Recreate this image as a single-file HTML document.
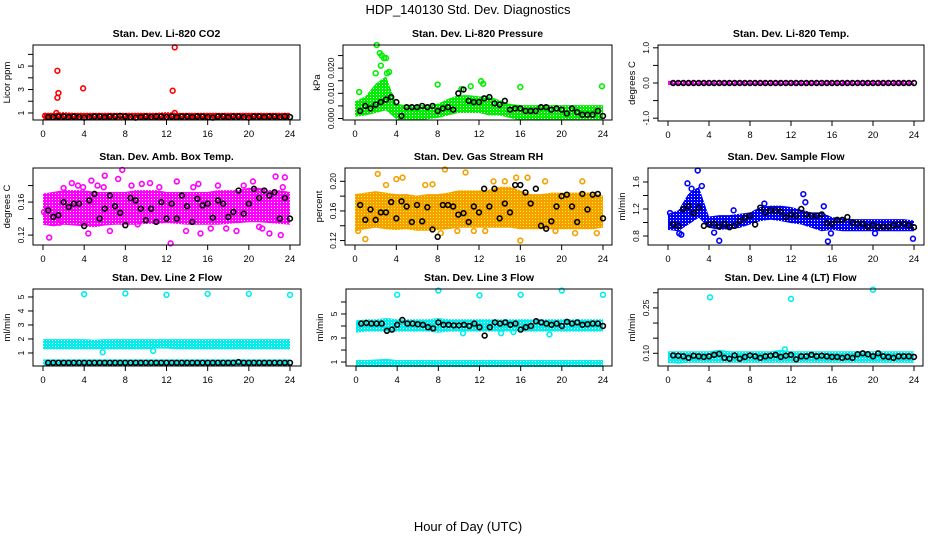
<!DOCTYPE html>
<html><head><meta charset="utf-8"><style>
body{margin:0;background:#fff}
svg{display:block;font-family:"Liberation Sans",sans-serif}
</style></head><body>
<svg id="chart" width="936" height="540" viewBox="0 0 936 540">
<defs id="defs"></defs>
<rect x="0" y="0" width="936" height="540" fill="#fff"/>
<text x="468" y="14" font-size="13" text-anchor="middle">HDP_140130  Std. Dev. Diagnostics</text>
<text x="468" y="531" font-size="13" text-anchor="middle">Hour of Day (UTC)</text>
</svg>
<script>
// ---- data ----
const xTicks = [0,4,8,12,16,20,24];
const bandHours = [0,1,2,3,4,5,6,7,8,9,10,11,12,13,14,15,16,17,18,19,20,21,22,23,24];

const co2Lo = [0.55,0.55,0.55,0.55,0.55,0.55,0.55,0.55,0.55,0.55,0.55,0.55,0.55,0.55,0.55,0.55,0.55,0.55,0.55,0.55,0.55,0.55,0.55,0.55,0.55];
const co2Hi = [0.85,0.85,0.9,0.85,0.85,0.85,0.85,0.85,0.85,0.85,0.85,0.85,0.9,0.85,0.85,0.85,0.85,0.85,0.85,0.85,0.85,0.85,0.85,0.85,0.85];
const co2OutH = [0.2,1.3,1.4,1.5,1.4,3.9,12.6,12.8,12.8];
const co2OutV = [0.75,1.0,2.3,2.7,4.6,3.1,2.9,6.6,1.0];
const co2Black = [0.65,0.65,0.7,0.7,0.65,0.7,0.65,0.6,0.65,0.7,0.7,0.65,0.7,0.7,0.75,0.7,0.65,0.6,0.65,0.7,0.65,0.7,0.7,0.65,0.7,0.65,0.7,0.7,0.65,0.7,0.7,0.65,0.6,0.7,0.7,0.65,0.7,0.7,0.65,0.6,0.7,0.7,0.65,0.7,0.7,0.65,0.7,0.65];

const presLo = [0.0015,0.002,0.003,0.004,0.0005,0.0,0.0,0.0005,0.001,0.002,0.003,0.003,0.003,0.002,0.002,0.001,0.0,0.0,0.0,0.0,0.0,0.0,0.0,0.0,0.0];
const presHi = [0.006,0.008,0.013,0.016,0.005,0.0045,0.0045,0.0045,0.005,0.007,0.0085,0.0085,0.008,0.008,0.0065,0.005,0.0045,0.0045,0.0045,0.0045,0.0045,0.0045,0.0045,0.0045,0.0045];
const presOutH = [2.1,2.4,2.6,2.8,3.0,2.0,3.1,0.4,8.0,10.3,11.2,12.2,12.4,16.0,23.9,2.5,3.3];
const presOutV = [0.0292,0.026,0.025,0.024,0.024,0.018,0.018,0.0105,0.0135,0.0117,0.0128,0.0148,0.0138,0.0125,0.0128,0.021,0.0185];
const presBlack = [0.003,0.005,0.004,0.0055,0.0065,0.0075,0.0085,0.0065,0.001,0.0045,0.0045,0.0045,0.005,0.0045,0.005,0.003,0.004,0.0045,0.0035,0.010,0.0115,0.007,0.0065,0.0065,0.008,0.0085,0.006,0.0055,0.007,0.0035,0.004,0.004,0.003,0.003,0.003,0.0045,0.0045,0.0035,0.004,0.0035,0.002,0.004,0.0025,0.0015,0.0015,0.0015,0.003,0.001];

const tempLo = [0,0,0,0,0,0,0,0,0,0,0,0,0,0,0,0,0,0,0,0,0,0,0,0,0];
const tempHi = [0,0,0,0,0,0,0,0,0,0,0,0,0,0,0,0,0,0,0,0,0,0,0,0,0];
const tempBlack = [0,0,0,0,0,0,0,0,0,0,0,0,0,0,0,0,0,0,0,0,0,0,0,0,0,0,0,0,0,0,0,0,0,0,0,0,0,0,0,0,0,0,0,0,0,0,0,0];

const ambLo = [0.135,0.133,0.135,0.134,0.133,0.132,0.134,0.135,0.135,0.135,0.136,0.136,0.137,0.136,0.135,0.135,0.135,0.135,0.136,0.137,0.138,0.138,0.137,0.136,0.135];
const ambHi = [0.168,0.17,0.172,0.172,0.172,0.17,0.17,0.17,0.17,0.172,0.172,0.172,0.17,0.17,0.17,0.17,0.17,0.172,0.172,0.172,0.175,0.175,0.172,0.172,0.17];
const ambOutH = [0.6,1.2,2.0,2.8,3.4,3.9,4.4,4.7,5.3,5.9,6.5,7.3,7.7,8.6,9.6,10.4,11.3,12.4,13.0,13.9,14.6,15.3,16.3,17.0,17.8,18.8,19.5,20.4,21.3,22.0,22.6,23.1,23.5,1.6,6.0,9.2,15.1,21.0,23.3,0.1];
const ambOutV = [0.117,0.145,0.177,0.183,0.18,0.178,0.122,0.186,0.18,0.178,0.125,0.188,0.199,0.18,0.182,0.183,0.178,0.11,0.185,0.125,0.178,0.122,0.128,0.18,0.128,0.125,0.18,0.185,0.128,0.122,0.191,0.12,0.19,0.135,0.192,0.133,0.182,0.13,0.178,0.148];
const ambBlack = [0.15,0.142,0.144,0.16,0.154,0.158,0.158,0.131,0.162,0.17,0.14,0.152,0.168,0.155,0.147,0.132,0.165,0.162,0.152,0.138,0.152,0.136,0.16,0.14,0.158,0.14,0.168,0.155,0.136,0.164,0.156,0.158,0.141,0.162,0.158,0.142,0.148,0.174,0.146,0.158,0.176,0.165,0.174,0.168,0.172,0.14,0.165,0.14];

const rhLo = [0.135,0.138,0.14,0.138,0.137,0.138,0.136,0.136,0.137,0.138,0.14,0.14,0.14,0.14,0.14,0.14,0.138,0.138,0.138,0.138,0.138,0.138,0.138,0.138,0.14];
const rhHi = [0.18,0.182,0.184,0.182,0.18,0.18,0.178,0.18,0.18,0.182,0.185,0.185,0.185,0.186,0.19,0.19,0.185,0.18,0.18,0.182,0.182,0.182,0.182,0.182,0.178];
const rhOutH = [0.3,1.0,2.2,4.0,4.6,6.8,7.5,8.7,9.9,10.7,12.6,13.4,14.5,16.0,16.7,18.4,19.4,21.3,22.0,23.4,3.0,8.3,11.5,15.6];
const rhOutV = [0.133,0.122,0.21,0.203,0.205,0.195,0.196,0.216,0.133,0.212,0.133,0.2,0.2,0.12,0.205,0.2,0.133,0.13,0.2,0.13,0.195,0.13,0.133,0.205];
const rhBlack = [0.168,0.148,0.162,0.148,0.158,0.158,0.172,0.15,0.173,0.166,0.145,0.168,0.146,0.165,0.135,0.125,0.168,0.168,0.166,0.155,0.157,0.145,0.166,0.158,0.19,0.166,0.19,0.15,0.17,0.158,0.195,0.195,0.185,0.17,0.19,0.14,0.136,0.146,0.166,0.18,0.182,0.166,0.145,0.183,0.162,0.182,0.183,0.15];

const flowLo = [0.92,0.9,1.0,1.1,0.95,0.92,0.93,0.95,1.0,1.05,1.07,1.05,1.02,1.0,0.95,0.9,0.92,0.9,0.9,0.9,0.9,0.9,0.9,0.9,0.9];
const flowHi = [1.1,1.15,1.4,1.5,1.06,1.08,1.08,1.1,1.12,1.2,1.22,1.22,1.2,1.16,1.12,1.12,1.05,1.03,1.02,1.02,1.02,1.02,1.02,1.02,1.0];
const flowOutH = [0.2,1.3,1.9,2.3,2.9,3.3,4.5,5.0,6.4,9.4,13.2,15.2,15.6,15.9,20.2,23.9,1.1,13.4];
const flowOutV = [1.14,0.82,1.58,1.5,1.77,1.54,0.85,0.73,1.18,1.28,1.42,1.24,0.72,0.84,0.84,0.76,0.84,1.3];
const flowBlack = [0.97,0.95,1.2,1.24,1.14,1.22,0.95,0.97,0.98,0.94,0.98,0.93,0.95,1.02,1.07,1.1,0.97,1.22,1.15,1.18,1.18,1.16,1.08,1.12,1.1,1.2,1.12,1.1,1.1,1.12,0.99,0.98,1.04,1.04,1.08,1.0,0.98,0.98,0.94,0.96,0.94,0.94,0.94,0.96,0.97,0.98,0.96,0.93];

const l2Lo = [1.4,1.4,1.4,1.4,1.4,1.4,1.4,1.4,1.4,1.4,1.4,1.45,1.45,1.4,1.4,1.4,1.4,1.4,1.4,1.4,1.4,1.4,1.4,1.4,1.4];
const l2Hi = [1.85,1.85,1.85,1.85,1.85,1.8,1.85,1.85,1.85,1.85,1.85,1.85,1.85,1.85,1.85,1.85,1.85,1.85,1.85,1.85,1.85,1.85,1.85,1.85,1.85];
const l2Lo2 = [0.2,0.2,0.2,0.2,0.2,0.2,0.2,0.2,0.2,0.2,0.2,0.2,0.2,0.2,0.2,0.2,0.2,0.2,0.2,0.2,0.2,0.2,0.2,0.2,0.2];
const l2Hi2 = [0.4,0.4,0.4,0.4,0.4,0.4,0.4,0.4,0.4,0.4,0.4,0.4,0.4,0.4,0.4,0.4,0.4,0.4,0.4,0.4,0.4,0.4,0.4,0.4,0.4];
const l2OutH = [4,8,12,16,20,24,5.8,10.7];
const l2OutV = [5.2,5.25,5.15,5.22,5.22,5.15,1.05,1.15];
const l2Black = [0.3,0.3,0.3,0.3,0.3,0.3,0.3,0.3,0.3,0.3,0.3,0.3,0.3,0.3,0.3,0.3,0.3,0.3,0.3,0.3,0.3,0.3,0.3,0.3,0.3,0.3,0.3,0.3,0.3,0.3,0.3,0.3,0.3,0.3,0.3,0.3,0.3,0.35,0.3,0.3,0.3,0.3,0.3,0.3,0.3,0.3,0.3,0.3];

const l3Lo = [3.6,3.7,3.7,3.7,3.7,3.7,3.7,3.7,3.6,3.7,3.7,3.7,3.7,3.7,3.7,3.7,3.7,3.7,3.7,3.7,3.7,3.7,3.7,3.7,3.7];
const l3Hi = [4.3,4.4,4.4,4.5,4.4,4.4,4.4,4.4,4.5,4.4,4.4,4.4,4.4,4.4,4.4,4.4,4.4,4.4,4.4,4.4,4.4,4.4,4.4,4.4,4.4];
const l3Lo2 = [0.75,0.75,0.75,0.75,0.75,0.75,0.75,0.75,0.75,0.75,0.75,0.75,0.75,0.75,0.75,0.75,0.75,0.75,0.75,0.75,0.75,0.75,0.75,0.75,0.75];
const l3Hi2 = [1.0,1.0,1.05,1.1,1.0,1.0,1.0,1.0,1.0,1.0,1.0,1.0,1.0,1.0,1.0,1.0,1.0,1.0,1.0,1.0,1.0,1.0,1.0,1.0,1.0];
const l3OutH = [4,8,12,16,20,24,10.4,14.1,18.8,15.3];
const l3OutV = [6.6,6.95,6.55,6.6,6.95,6.6,3.4,3.4,3.3,3.5];
const l3Black = [4.2,4.25,4.2,4.2,4.2,3.6,3.7,4.1,4.5,4.2,4.2,4.15,4.1,3.9,3.8,4.3,4.1,4.1,4.05,4.05,4.1,4.0,4.2,3.9,3.2,3.9,4.3,4.2,4.3,4.1,4.2,3.7,3.9,4.0,4.4,4.3,4.2,4.1,4.2,4.0,4.35,4.2,4.3,4.1,4.15,4.2,4.2,4.0];

const l4Lo = [0.075,0.072,0.075,0.075,0.075,0.075,0.075,0.075,0.075,0.075,0.075,0.075,0.075,0.075,0.075,0.075,0.075,0.075,0.075,0.075,0.075,0.075,0.075,0.075,0.075];
const l4Hi = [0.1,0.1,0.1,0.1,0.1,0.105,0.1,0.1,0.1,0.1,0.1,0.105,0.1,0.1,0.1,0.1,0.1,0.1,0.1,0.1,0.1,0.1,0.1,0.1,0.1];
const l4OutH = [4.1,12.0,20.0,11.4];
const l4OutV = [0.285,0.28,0.31,0.113];
const l4Black = [0.093,0.092,0.09,0.085,0.092,0.09,0.088,0.09,0.095,0.098,0.085,0.082,0.093,0.082,0.088,0.093,0.09,0.085,0.09,0.092,0.095,0.088,0.092,0.095,0.08,0.09,0.09,0.095,0.09,0.092,0.09,0.088,0.088,0.085,0.088,0.085,0.097,0.1,0.097,0.09,0.1,0.09,0.088,0.085,0.09,0.09,0.09,0.088];

// ---- rendering ----
const NS = "http://www.w3.org/2000/svg";
const svg = document.getElementById('chart');
const defs = document.getElementById('defs');
function el(tag, attrs, parent){const e=document.createElementNS(NS,tag);for(const k in attrs)e.setAttribute(k,attrs[k]);(parent||svg).appendChild(e);return e;}

let patId = 0;
function makePattern(color, dot){
  const id = 'pat'+(patId++);
  const p = el('pattern',{id:id,width:3,height:3,patternUnits:'userSpaceOnUse'},defs);
  el('rect',{x:0,y:0,width:3,height:3,fill:color},p);
  el('rect',{x:1,y:1,width:1,height:1,fill:dot},p);
  return 'url(#'+id+')';
}

const panels = [
 {key:'co2',title:'Stan. Dev. Li-820 CO2',ylab:'Licor ppm',box:[33,45,300,120],x0:43,x24:290,ymin:0.4,ymax:6.8,ticks:[1,2,3,4,5,6],labels:[1,3,5],fmt:v=>String(v),color:'#ff0000',bands:[[co2Lo,co2Hi]],outH:co2OutH,outV:co2OutV,black:co2Black},
 {key:'pressure',title:'Stan. Dev. Li-820 Pressure',ylab:'kPa',box:[343,45,612,120],x0:355,x24:603,ymin:-0.0006,ymax:0.0292,ticks:[0,0.005,0.01,0.015,0.02,0.025],labels:[0,0.01,0.02],fmt:v=>v.toFixed(3),color:'#00ee00',bands:[[presLo,presHi]],outH:presOutH,outV:presOutV,black:presBlack},
 {key:'temp',title:'Stan. Dev. Li-820 Temp.',ylab:'degrees C',box:[658,45,924,121],x0:668,x24:914,ymin:-1.08,ymax:1.08,ticks:[-1,-0.5,0,0.5,1],labels:[-1,0,1],fmt:v=>v.toFixed(1),color:'#ff00ff',bands:[[tempLo,tempHi]],outH:[],outV:[],black:tempBlack},
 {key:'amb-temp',title:'Stan. Dev. Amb. Box Temp.',ylab:'degrees C',box:[33,168,300,245],x0:43,x24:290,ymin:0.108,ymax:0.2013,ticks:[0.12,0.14,0.16,0.18],labels:[0.12,0.16],fmt:v=>v.toFixed(2),color:'#ff00ff',bands:[[ambLo,ambHi]],outH:ambOutH,outV:ambOutV,black:ambBlack},
 {key:'rh',title:'Stan. Dev. Gas Stream RH',ylab:'percent',box:[345,168,612,245],x0:355,x24:603,ymin:0.114,ymax:0.218,ticks:[0.12,0.14,0.16,0.18,0.2],labels:[0.12,0.16,0.2],fmt:v=>v.toFixed(2),color:'#f5a000',dot:'#ffff00',bands:[[rhLo,rhHi]],outH:rhOutH,outV:rhOutV,black:rhBlack},
 {key:'sample-flow',title:'Stan. Dev. Sample Flow',ylab:'ml/min',box:[648,168,924,245],x0:668,x24:914,ymin:0.667,ymax:1.807,ticks:[0.8,1.0,1.2,1.4,1.6],labels:[0.8,1.2,1.6],fmt:v=>v.toFixed(1),color:'#0000ff',bands:[[flowLo,flowHi]],outH:flowOutH,outV:flowOutV,black:flowBlack},
 {key:'line2',title:'Stan. Dev. Line 2 Flow',ylab:'ml/min',box:[33,289,301,366],x0:43,x24:290,ymin:0.07,ymax:5.57,ticks:[1,2,3,4,5],labels:[1,2,3,4,5],fmt:v=>String(v),color:'#00eeee',bands:[[l2Lo,l2Hi],[l2Lo2,l2Hi2]],outH:l2OutH,outV:l2OutV,black:l2Black},
 {key:'line3',title:'Stan. Dev. Line 3 Flow',ylab:'ml/min',box:[346,289,612,366],x0:356,x24:603,ymin:0.67,ymax:7.08,ticks:[1,2,3,4,5,6],labels:[1,3,5],fmt:v=>String(v),color:'#00eeee',bands:[[l3Lo,l3Hi],[l3Lo2,l3Hi2]],outH:l3OutH,outV:l3OutV,black:l3Black},
 {key:'line4',title:'Stan. Dev. Line 4 (LT) Flow',ylab:'ml/min',box:[658,289,923,366],x0:668,x24:914,ymin:0.058,ymax:0.3125,ticks:[0.1,0.15,0.2,0.25,0.3],labels:[0.1,0.25],fmt:v=>v.toFixed(2),color:'#00eeee',bands:[[l4Lo,l4Hi]],outH:l4OutH,outV:l4OutV,black:l4Black}
];

panels.forEach(p=>{
  const g = el('g',{});
  
  
  const [L,T,R,B] = p.box;
  const xs = h => p.x0 + (p.x24-p.x0)*h/24;
  const ys = v => B - (v-p.ymin)/(p.ymax-p.ymin)*(B-T);
  const cx = (L+R)/2;
  const t = el('text',{x:cx,y:T-8,'font-size':10.5,'font-weight':'bold','text-anchor':'middle'},g);
  t.textContent = p.title;
  
  
  const fill = makePattern(p.color, p.dot || '#ffffff');
  // bands
  p.bands.forEach(([lo,hi])=>{
    let pts = bandHours.map((h,i)=>xs(h)+','+(ys(hi[i])-2));
    pts = pts.concat(bandHours.slice().reverse().map((h,j)=>{const i=bandHours.length-1-j;return xs(h)+','+(ys(lo[i])+2);}));
    const poly = el('polygon',{points:pts.join(' '),fill:fill,stroke:'none'},g);
    
    
  });
  // outliers
  p.outH.forEach((h,i)=>{
    const c = el('circle',{cx:xs(h),cy:ys(p.outV[i]),r:2.4,fill:'none',stroke:p.color,'stroke-width':1.6},g);
    
    
  });
  // black points
  p.black.forEach((v,i)=>{
    const c = el('circle',{cx:xs((i+1)*0.5),cy:ys(v),r:2.4,fill:'none',stroke:'#000','stroke-width':1.6},g);
    
    
  });
  // frame
  const fr = el('rect',{x:L,y:T,width:R-L,height:B-T,fill:'none',stroke:'#000','stroke-width':1},g);
  
  
  // x axis
  const xa = el('g',{},g);
  
  
  xTicks.forEach(h=>{
    el('line',{x1:xs(h),x2:xs(h),y1:B,y2:B+5,stroke:'#000'},xa);
    const tx = el('text',{x:xs(h),y:B+17,'font-size':9.5,'text-anchor':'middle'},xa);
    tx.textContent = h;
    
    
  });
  // y axis
  const ya = el('g',{},g);
  
  
  p.ticks.forEach(v=>{
    el('line',{x1:L-5,x2:L,y1:ys(v),y2:ys(v),stroke:'#000'},ya);
  });
  p.labels.forEach(v=>{
    const ty = el('text',{x:L-9,y:ys(v),'font-size':8.5,'text-anchor':'middle',transform:`rotate(-90 ${L-9} ${ys(v)})`},ya);
    ty.textContent = p.fmt(v);
    
    
  });
  const yt = el('text',{x:L-23,y:(T+B)/2,'font-size':9.5,'text-anchor':'middle',transform:`rotate(-90 ${L-23} ${(T+B)/2})`},g);
  yt.textContent = p.ylab;
  
  
});
</script>
</body></html>
